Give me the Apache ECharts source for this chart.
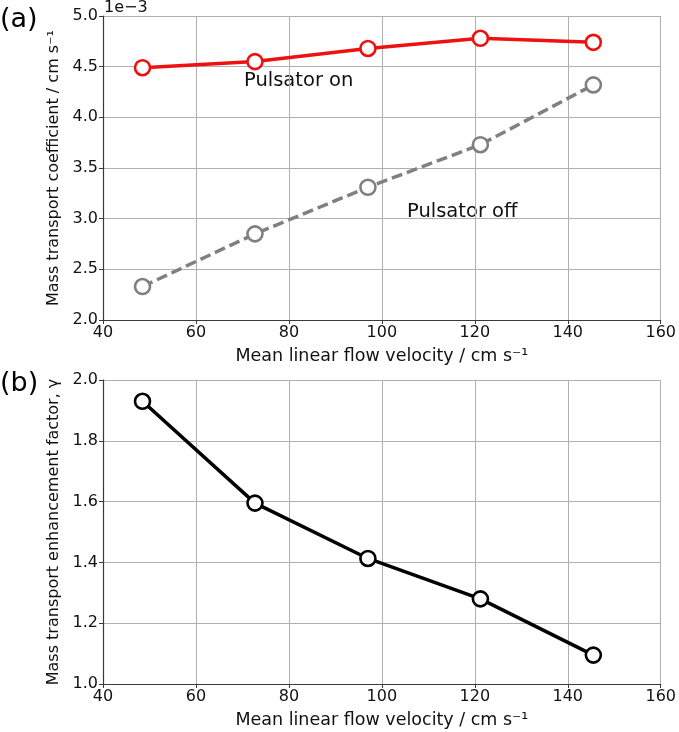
<!DOCTYPE html>
<html>
<head>
<meta charset="utf-8">
<script src="https://cdn.jsdelivr.net/npm/echarts@6/dist/echarts.min.js"></script>
<style>
  html, body { margin: 0; padding: 0; background: #fff; }
  #main { width: 679px; height: 732px; }
</style>
</head>
<body>
<div id="main"></div>
<script>
// flow velocity (cm/s)
let velocity = [48.5, 72.7, 97.0, 121.2, 145.5];
// mass transport coefficient, units of 1e-3 cm/s
let pulsatorOn = [4.49, 4.55, 4.68, 4.78, 4.74];
let pulsatorOff = [2.33, 2.85, 3.31, 3.73, 4.32];
// enhancement factor
let gamma = [1.93, 1.595, 1.413, 1.28, 1.095];

function pairs(xs, ys) {
    let out = [];
    for (let i = 0; i < xs.length; i++) {
        out.push([xs[i], ys[i]]);
    }
    return out;
}

let font = 'DejaVu Sans';
let axisCol = '#3a3a3a';

function xAxisOpt(idx) {
    return {
        type: 'value', gridIndex: idx, min: 40, max: 160, interval: 20,
        name: 'Mean linear flow velocity / cm s\u207B\u00B9',
        nameLocation: 'middle', nameGap: 27,
        nameTextStyle: { fontFamily: font, fontSize: 17.5, color: '#111' },
        axisLine: { show: true, onZero: false, lineStyle: { color: axisCol, width: 1.2 } },
        axisTick: { show: true, length: 4, lineStyle: { color: axisCol } },
        axisLabel: { fontFamily: font, fontSize: 16, color: '#111', margin: 5 },
        splitLine: { show: true, lineStyle: { color: '#b0b0b0', width: 1 } }
    };
}

function yAxisOpt(idx, min, max, step, name) {
    return {
        type: 'value', gridIndex: idx, min: min, max: max, interval: step,
        name: name, nameLocation: 'middle', nameGap: 40,
        nameTextStyle: { fontFamily: font, fontSize: 16, color: '#111' },
        axisLine: { show: true, lineStyle: { color: axisCol, width: 1.2 } },
        axisTick: { show: true, length: 4, lineStyle: { color: axisCol } },
        axisLabel: {
            fontFamily: font, fontSize: 16, color: '#111', margin: 5,
            formatter: function (v) { return v.toFixed(1); }
        },
        splitLine: { show: true, lineStyle: { color: '#b0b0b0', width: 1 } }
    };
}

function lineSeries(xi, data, color, dashed) {
    return {
        type: 'line', xAxisIndex: xi, yAxisIndex: xi,
        data: data, symbol: 'circle', symbolSize: 15,
        lineStyle: { color: color, width: 3.5, type: dashed ? [11, 5] : 'solid' },
        itemStyle: { color: '#fff', borderColor: color, borderWidth: 2.6 },
        animation: false, z: 3
    };
}

let chart = echarts.init(document.getElementById('main'));
chart.setOption({
    animation: false,
    grid: [
        { left: 103, right: 15, top: 16, height: 304 },
        { left: 103, right: 15, top: 380, height: 304 }
    ],
    xAxis: [xAxisOpt(0), xAxisOpt(1)],
    yAxis: [
        yAxisOpt(0, 2.0, 5.0, 0.5, 'Mass transport coefficient / cm s\u207B\u00B9'),
        yAxisOpt(1, 1.0, 2.0, 0.2, 'Mass transport enhancement factor, \u03B3')
    ],
    series: [
        lineSeries(0, pairs(velocity, pulsatorOn), '#ee1111', false),
        lineSeries(0, pairs(velocity, pulsatorOff), '#808080', true),
        lineSeries(1, pairs(velocity, gamma), '#000000', false)
    ],
    graphic: [
        { type: 'text', left: 0, top: 6, style: { text: '(a)', font: '27px "DejaVu Sans"', fill: '#000' } },
        { type: 'text', left: 0, top: 370, style: { text: '(b)', font: '27px "DejaVu Sans"', fill: '#000' } },
        { type: 'text', left: 104, top: 0, style: { text: '1e\u22123', font: '16px "DejaVu Sans"', fill: '#111' } },
        { type: 'text', left: 244, top: 71, style: { text: 'Pulsator on', font: '19.5px "DejaVu Sans"', fill: '#111' } },
        { type: 'text', left: 407, top: 202, style: { text: 'Pulsator off', font: '19.5px "DejaVu Sans"', fill: '#111' } }
    ]
});
</script>
</body>
</html>
